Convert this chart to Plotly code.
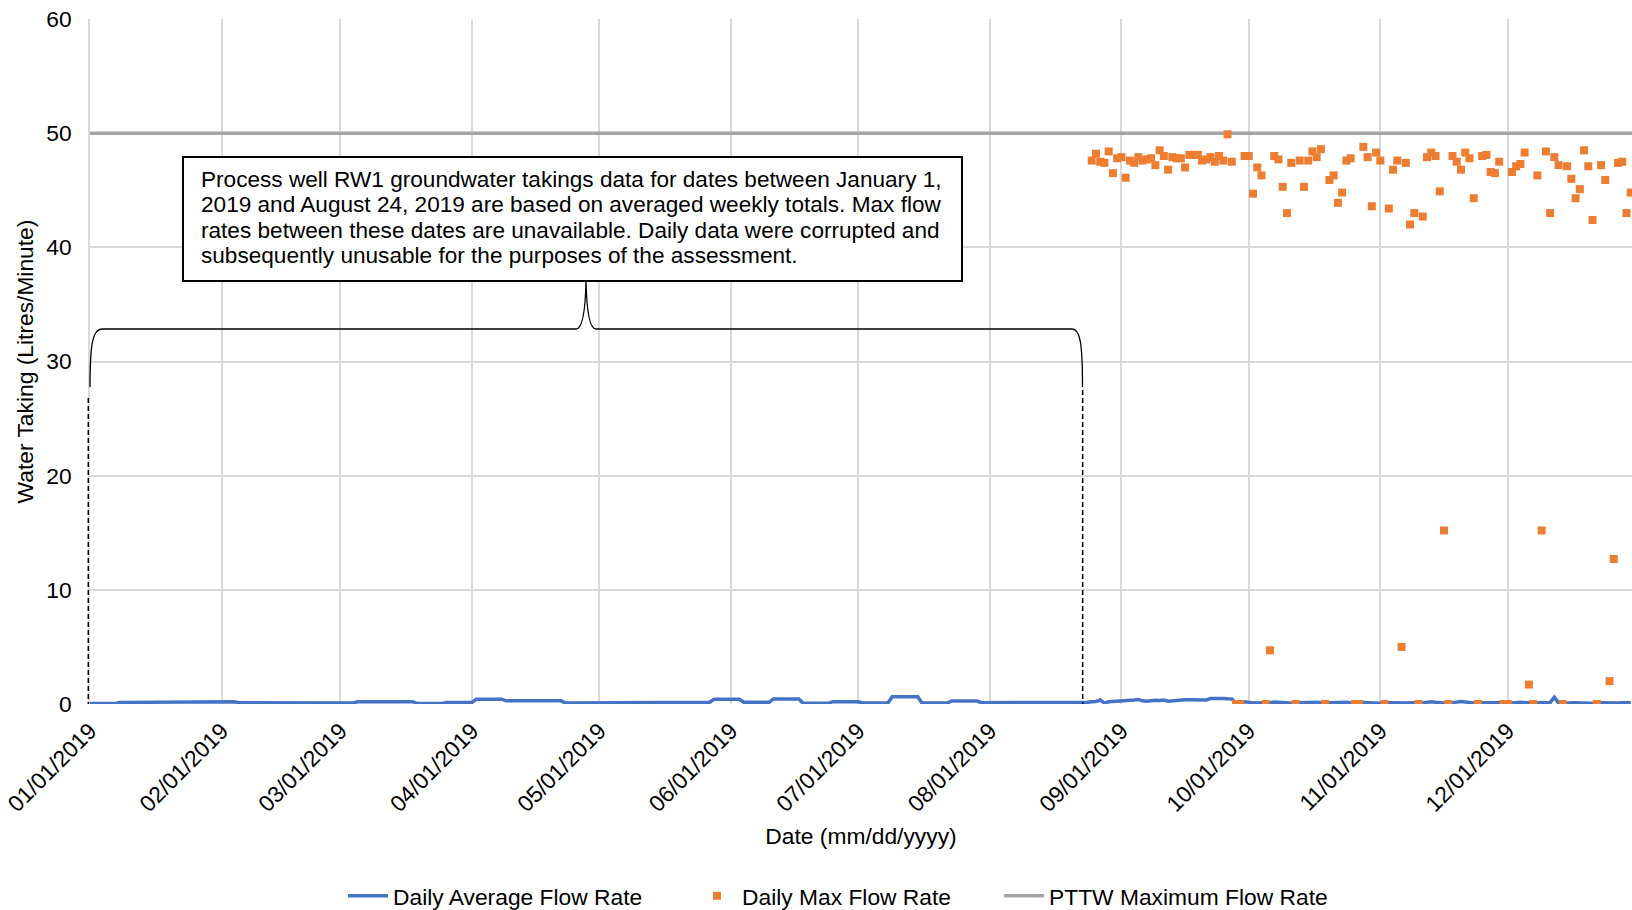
import numpy as np
import pandas as pd
import plotly.graph_objects as go

# ---------------- data ----------------
# Weekly averaged flow (Jan 1 - Aug 24, 2019), one value per 7-day block starting Jan 1
weekly_avg = [0.05, 0.14, 0.14, 0.14, 0.20, 0.11, 0.11, 0.14, 0.08, 0.20,
              0.20, 0.05, 0.14, 0.42, 0.28, 0.28, 0.08, 0.08, 0.08, 0.09,
              0.15, 0.42, 0.15, 0.44, 0.06, 0.20, 0.09, 0.64, 0.09, 0.26,
              0.12, 0.12, 0.15, 0.15]

# Daily data Aug 25 - Dec 30, 2019
daily_start = "2019-08-25"
daily_end = "2019-12-30"

daily_avg = [0.20, 0.22, 0.35, 0.08, 0.20, 0.22, 0.24, 0.22, 0.25, 0.30,
             0.35, 0.40, 0.28, 0.25, 0.30, 0.32, 0.30, 0.34, 0.25, 0.30,
             0.32, 0.35, 0.38, 0.38, 0.37, 0.40, 0.38, 0.36, 0.48, 0.50,
             0.50, 0.49, 0.46, 0.45, 0.05, 0.05, 0.20, 0.12, 0.10, 0.08,
             0.10, 0.04, 0.12, 0.18, 0.15, 0.12, 0.10, 0.12, 0.04, 0.10,
             0.12, 0.10, 0.14, 0.15, 0.12, 0.04, 0.10, 0.12, 0.10, 0.12,
             0.15, 0.10, 0.04, 0.05, 0.12, 0.10, 0.12, 0.10, 0.08, 0.04,
             0.10, 0.12, 0.10, 0.08, 0.10, 0.12, 0.10, 0.04, 0.10, 0.14,
             0.20, 0.15, 0.10, 0.08, 0.04, 0.12, 0.20, 0.22, 0.18, 0.15,
             0.10, 0.04, 0.12, 0.15, 0.12, 0.10, 0.12, 0.05, 0.05, 0.12,
             0.12, 0.15, 0.14, 0.10, 0.04, 0.10, 0.12, 0.10, 0.12, 0.60,
             0.08, 0.04, 0.10, 0.10, 0.12, 0.10, 0.12, 0.10, 0.08, 0.04,
             0.10, 0.08, 0.06, 0.10, 0.08, 0.10, 0.08, 0.10]

daily_max = [47.6, 48.2, 47.5, 47.4, 48.4, 46.5, 47.8, 47.9, 46.1, 47.6,
             47.4, 47.9, 47.6, 47.7, 47.8, 47.2, 48.5, 48.0, 46.8, 47.9,
             47.8, 47.8, 47.0, 48.1, 48.1, 48.1, 47.6, 47.7, 47.9, 47.5,
             48.0, 47.6, 49.9, 47.5, 0.0, 0.0, 48.0, 48.0, 44.7, 47.0,
             46.3, 0.0, 4.7, 48.0, 47.7, 45.3, 43.0, 47.4, 0.0, 47.6,
             45.3, 47.6, 48.4, 47.9, 48.6, 0.0, 45.9, 46.3, 43.9, 44.8,
             47.6, 47.8, 0.0, 0.0, 48.8, 47.9, 43.6, 48.3, 47.6, 0.0,
             43.4, 46.8, 47.6, 5.0, 47.4, 42.0, 43.0, 0.0, 42.7, 47.9,
             48.3, 48.0, 44.9, 15.2, 0.0, 48.0, 47.5, 46.8, 48.3, 47.8,
             44.3, 0.0, 48.0, 48.1, 46.6, 46.5, 47.5, 0.0, 0.0, 46.6,
             47.1, 47.3, 48.3, 1.7, 0.0, 46.3, 15.2, 48.4, 43.0, 47.9,
             47.2, 0.0, 47.1, 46.0, 44.3, 45.1, 48.5, 47.1, 42.4, 0.0,
             47.2, 45.9, 2.0, 12.7, 47.4, 47.5, 43.0, 44.8]

pttw_limit = 50
x_range = ["2019-01-01", "2019-12-30 07:00"]

series_names = ["Daily Average Flow Rate", "Daily Max Flow Rate", "PTTW Maximum Flow Rate"]
note_lines = [
    "Process well RW1 groundwater takings data for dates between January 1,",
    "2019 and August 24, 2019 are based on averaged weekly totals. Max flow",
    "rates between these dates are unavailable. Daily data were corrupted and",
    "subsequently unusable for the purposes of the assessment.",
]

# ---------------- build series ----------------
weekly_days = pd.date_range("2019-01-01", "2019-08-24", freq="D")
weekly_daily_vals = [weekly_avg[i // 7] for i in range(len(weekly_days))]
daily_days = pd.date_range(daily_start, daily_end, freq="D")

avg_dates = list(weekly_days) + list(daily_days)
avg_vals = weekly_daily_vals + daily_avg

# ---------------- layout helpers ----------------
W, H = 1632, 910
ML, MR, MT, MB = 90, 0, 19, 206
PW, PH = W - ML - MR, H - MT - MB


def px(x):
    return (x - ML) / PW


def py(y):
    return (H - MB - y) / PH


FONT = "Liberation Sans, Arial, sans-serif"
FS = 22.8
BLUE = "#4472C4"
ORANGE = "#ED7D31"
GRAY = "#A5A5A5"
GRID = "#D9D9D9"

fig = go.Figure()

fig.add_trace(go.Scatter(
    x=[x_range[0], x_range[1]], y=[pttw_limit, pttw_limit], mode="lines",
    line=dict(color=GRAY, width=3.5), name=series_names[2], legend="legend3",
    hoverinfo="skip"))
fig.add_trace(go.Scatter(
    x=avg_dates, y=avg_vals, mode="lines",
    line=dict(color=BLUE, width=3.5), name=series_names[0], legend="legend"))
fig.add_trace(go.Scatter(
    x=daily_days, y=daily_max, mode="markers",
    marker=dict(color=ORANGE, size=8, symbol="square", line=dict(width=0)),
    name=series_names[1], legend="legend2"))

# Annotation box
shapes = [
    dict(type="rect", xref="paper", yref="paper",
         x0=px(183), x1=px(962), y0=py(281), y1=py(157),
         line=dict(color="black", width=2), fillcolor="white", layer="above"),
]
# Brace
brace = (
    f"M {px(90)},{py(387)} "
    f"C {px(90)},{py(342)} {px(93)},{py(329)} {px(102)},{py(329)} "
    f"L {px(576)},{py(329)} "
    f"C {px(583)},{py(329)} {px(585.5)},{py(305)} {px(586)},{py(281)} "
    f"C {px(586.5)},{py(305)} {px(589)},{py(329)} {px(596)},{py(329)} "
    f"L {px(1072)},{py(329)} "
    f"C {px(1080)},{py(329)} {px(1082.5)},{py(342)} {px(1082.5)},{py(387)}"
)
shapes.append(dict(type="path", xref="paper", yref="paper", path=brace,
                   line=dict(color="black", width=1.3), layer="above"))
# Dashed vertical lines
for xp, ytop in [(88.3, 398), (1082.7, 390)]:
    shapes.append(dict(type="line", xref="paper", yref="paper",
                       x0=px(xp), x1=px(xp), y0=py(ytop), y1=py(704),
                       line=dict(color="black", width=1.5, dash="5px,3px"),
                       layer="above"))

annotations = []
for i, t in enumerate(note_lines):
    annotations.append(dict(
        xref="paper", yref="paper", x=px(199), y=py(179 + i * 25.6),
        xanchor="left", yanchor="middle", text=t, showarrow=False,
        font=dict(family=FONT, size=22.6, color="black")))

legend_common = dict(orientation="h", xanchor="left", y=py(896), yanchor="middle",
                     font=dict(family=FONT, size=FS, color="black"),
                     bgcolor="rgba(0,0,0,0)", itemwidth=40)

fig.update_layout(
    width=W, height=H,
    margin=dict(l=ML, r=MR, t=MT, b=MB, pad=0, autoexpand=False),
    paper_bgcolor="white", plot_bgcolor="white",
    font=dict(family=FONT, size=FS, color="black"),
    shapes=shapes, annotations=annotations,
    showlegend=True,
    legend=dict(x=px(393 - 50), **legend_common),
    legend2=dict(x=px(742 - 50), **legend_common),
    legend3=dict(x=px(1049 - 50), **legend_common),
)

fig.update_xaxes(
    type="date", range=x_range, tick0="2019-01-01", dtick="M1",
    tickformat="%m/%d/%Y", tickangle=-45, showgrid=True, gridcolor=GRID,
    gridwidth=1.5, ticks="", showline=False, zeroline=False,
    ticklabelstandoff=8, automargin=False,
    tickfont=dict(family=FONT, size=FS, color="black"),
    title=dict(text="Date (mm/dd/yyyy)", standoff=12,
               font=dict(family=FONT, size=FS, color="black")),
)
fig.update_yaxes(
    range=[0, 60], dtick=10, showgrid=True, gridcolor=GRID, gridwidth=1.5,
    ticks="", showline=True, linecolor=GRID, linewidth=1.5, zeroline=False,
    ticklabelstandoff=12, automargin=False,
    tickfont=dict(family=FONT, size=FS, color="black"),
    title=dict(text="Water Taking (Litres/Minute)", standoff=6,
               font=dict(family=FONT, size=FS, color="black")),
)

fig.write_html("out.html")
